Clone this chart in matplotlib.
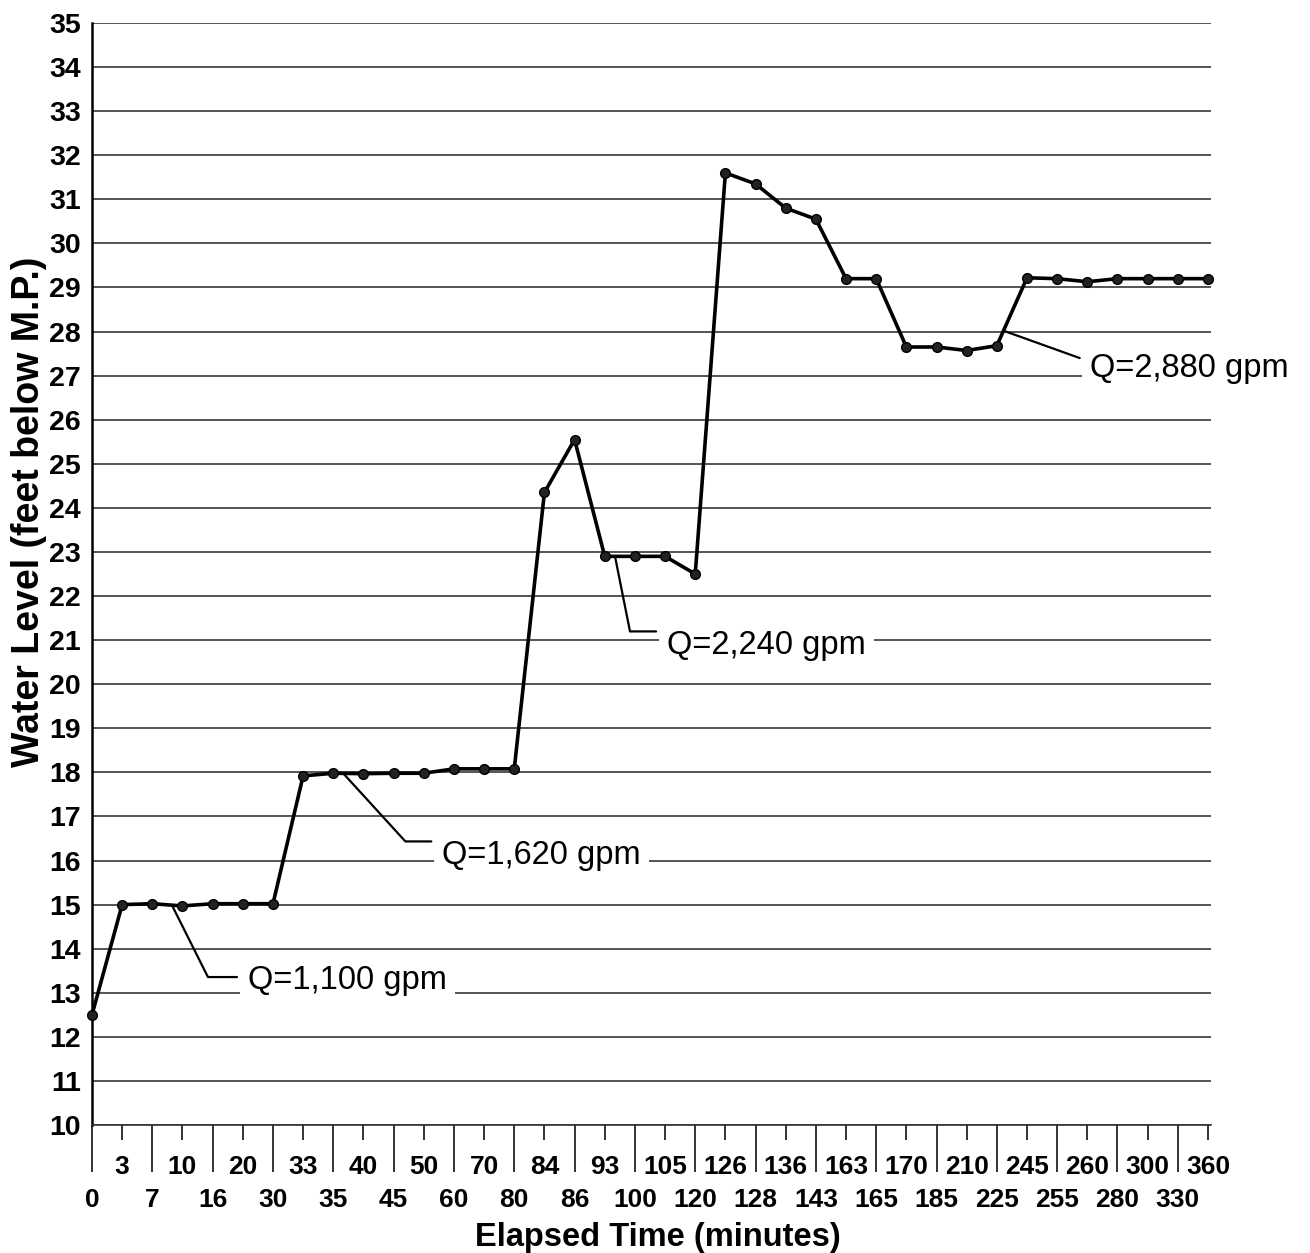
import numpy as np
import matplotlib
matplotlib.use("Agg")
import matplotlib.pyplot as plt

plt.rcParams['font.family'] = ['Liberation Sans', 'DejaVu Sans']

# Elapsed time categories (minutes) and measured water levels (feet below M.P.)
elapsed_min = [0, 3, 7, 10, 16, 20, 30, 33, 35, 40, 45, 50, 60, 70, 80, 84, 86, 93,
               100, 105, 120, 126, 128, 136, 143, 163, 165, 170, 185, 210, 225,
               245, 255, 260, 280, 300, 330, 360]
water_level = [12.5, 15.0, 15.02, 14.97, 15.02, 15.02, 15.02, 17.92, 17.98, 17.97,
               17.98, 17.98, 18.08, 18.08, 18.08, 24.35, 25.55, 22.9, 22.9, 22.9,
               22.5, 31.6, 31.35, 30.8, 30.55, 29.2, 29.2, 27.65, 27.65, 27.57,
               27.68, 29.22, 29.2, 29.13, 29.2, 29.2, 29.2, 29.2]
y_ticks = list(range(10, 36))

# Pumping-rate notes: text, segment start index, fraction along segment
rate_notes = ["Q=1,100 gpm", "Q=1,620 gpm", "Q=2,240 gpm", "Q=2,880 gpm"]
note_segment = [2, 8, 17, 30]
note_fraction = [0.65, 0.33, 0.34, 0.22]

W, H = 1310, 1253
fig = plt.figure(figsize=(W / 100, H / 100), dpi=100)
fig.patch.set_facecolor('white')
left_px, right_px, top_px, bottom_px = 92, 1211, 23, 1125
ax = fig.add_axes([left_px / W, 1 - bottom_px / H,
                   (right_px - left_px) / W, (bottom_px - top_px) / H])

idx = np.arange(len(elapsed_min))
ax.plot(idx, water_level, color='black', lw=2.6, marker='o', ms=7,
        mfc='#222222', mec='black', mew=1.0, zorder=4, clip_on=False)

ax.set_xlim(0, 37.1)
ax.set_ylim(10, 35)

# Horizontal grid
ax.set_axisbelow(True)
ax.grid(axis='y', color='#262626', lw=1.1)
ax.grid(axis='x', visible=False)

for s in ('top', 'right'):
    ax.spines[s].set_visible(False)
ax.spines['left'].set_color('black')
ax.spines['left'].set_linewidth(1.8)
ax.spines['bottom'].set_color('#333333')
ax.spines['bottom'].set_linewidth(1.2)

# Y ticks
ax.set_yticks(y_ticks, labels=[str(v) for v in y_ticks],
              fontsize=20.5, fontweight='bold')
ax.tick_params(axis='y', length=0, pad=8)

# X ticks: alternating rows, long ticks for the lower row
ax.set_xticks(idx[::2], labels=[str(v) for v in elapsed_min[::2]],
              fontsize=19, fontweight='bold')
ax.set_xticks(idx[1::2], labels=[str(v) for v in elapsed_min[1::2]], minor=True,
              fontsize=19, fontweight='bold')
ax.tick_params(axis='x', which='major', length=33.8, width=1.4, color='#333333',
               pad=11.5)
ax.tick_params(axis='x', which='minor', length=10.8, width=1.4, color='#333333',
               pad=10.5)

ax.set_xlabel('Elapsed Time (minutes)', fontsize=23.5, fontweight='bold')
ax.xaxis.set_label_coords(0.506, -0.088)
ax.set_ylabel('Water Level (feet below M.P.)', fontsize=27, fontweight='bold')
ax.yaxis.set_label_coords(-0.040, 0.556)

# Leader-line annotations
offsets = [(76, -75), (99, -82), (52, -89), (87, -38)]
styles = ['angle,angleA=0,angleB=-63.4,rad=0',
          'angle,angleA=0,angleB=-47.6,rad=0',
          'angle,angleA=0,angleB=-78.7,rad=0',
          'arc3,rad=0']
rel_y = [0.6, 0.95, 0.95, 0.72]
for text, seg, frac, off, cs, ry in zip(rate_notes, note_segment, note_fraction,
                                         offsets, styles, rel_y):
    xa = seg + frac
    ya = water_level[seg] + frac * (water_level[seg + 1] - water_level[seg])
    ax.annotate(text, xy=(xa, ya), xycoords='data',
                xytext=off, textcoords='offset pixels',
                ha='left', va='center', fontsize=23.5, color='black',
                bbox=dict(boxstyle='square,pad=0.25', fc='white', ec='none'),
                arrowprops=dict(arrowstyle='-', lw=1.6, color='black',
                                shrinkA=2, shrinkB=0, connectionstyle=cs,
                                relpos=(0, ry)),
                annotation_clip=False, zorder=3)

fig.savefig('out.png', dpi=100, facecolor='white')
